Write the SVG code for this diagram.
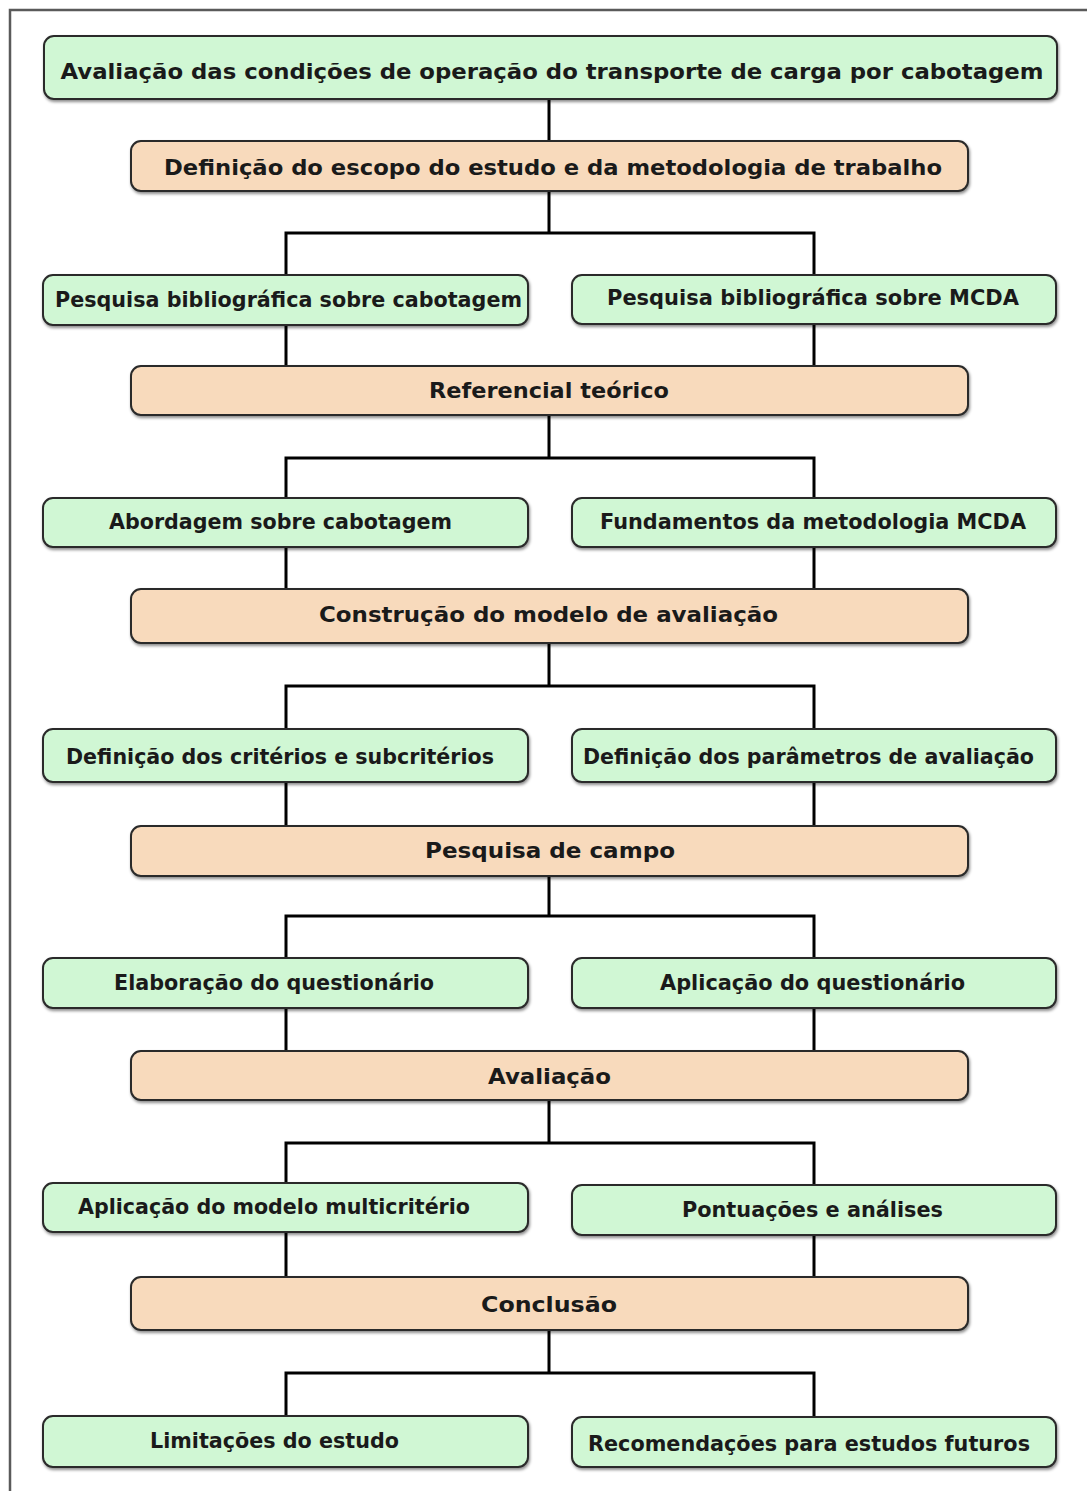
<svg xmlns="http://www.w3.org/2000/svg" width="1087" height="1491" viewBox="0 0 1087 1491">
<defs>
<filter id="sh" x="-5%" y="-20%" width="110%" height="150%">
<feDropShadow dx="1" dy="2" stdDeviation="1.5" flood-color="#000" flood-opacity="0.45"/>
</filter>
<style>
.g{fill:#d0f7d4;stroke:#2a2a2a;stroke-width:2;filter:url(#sh)}
.o{fill:#f8dabc;stroke:#2a2a2a;stroke-width:2;filter:url(#sh)}
.t{font-family:"DejaVu Sans","Liberation Sans",sans-serif;font-weight:bold;font-size:21px;fill:#1a1a1a}
.c{fill:none;stroke:#000;stroke-width:3}
</style>
</defs>
<rect width="1087" height="1491" fill="#fff"/>
<path d="M10,1491 V10 H1087" fill="none" stroke="#5a5a5a" stroke-width="2.5"/>
<g id="connectors">
<path class="c" d="M549,99 V141"/>
<path class="c" d="M549,191 V233 M286,233 H814 M286,231.5 V275 M814,231.5 V275 M286,325 V366 M814,324 V366"/>
<path class="c" d="M549,415 V458 M286,458 H814 M286,456.5 V498 M814,456.5 V498 M286,547 V589 M814,547 V589"/>
<path class="c" d="M549,643 V686 M286,686 H814 M286,684.5 V729 M814,684.5 V729 M286,782 V826 M814,782 V826"/>
<path class="c" d="M549,876 V916 M286,916 H814 M286,914.5 V958 M814,914.5 V958 M286,1008 V1051 M814,1008 V1051"/>
<path class="c" d="M549,1100 V1143 M286,1143 H814 M286,1141.5 V1183 M814,1141.5 V1185 M286,1232 V1277 M814,1235 V1277"/>
<path class="c" d="M549,1330 V1373 M286,1373 H814 M286,1371.5 V1416 M814,1371.5 V1417"/>
</g>
<g id="n1"><rect class="g" x="44" y="36" width="1013" height="63" rx="10"/><text class="t" x="552" y="79" text-anchor="middle" textLength="983" lengthAdjust="spacingAndGlyphs">Avaliação das condições de operação do transporte de carga por cabotagem</text></g>
<g id="n2"><rect class="o" x="131" y="141" width="837" height="50" rx="10"/><text class="t" x="553" y="175" text-anchor="middle" textLength="778" lengthAdjust="spacingAndGlyphs">Definição do escopo do estudo e da metodologia de trabalho</text></g>
<g id="n3"><rect class="g" x="43" y="275" width="485" height="50" rx="10"/><text class="t" x="288.5" y="307" text-anchor="middle" textLength="467" lengthAdjust="spacingAndGlyphs">Pesquisa bibliográfica sobre cabotagem</text></g>
<g id="n4"><rect class="g" x="572" y="275" width="484" height="49" rx="10"/><text class="t" x="813" y="305" text-anchor="middle" textLength="412" lengthAdjust="spacingAndGlyphs">Pesquisa bibliográfica sobre MCDA</text></g>
<g id="n5"><rect class="o" x="131" y="366" width="837" height="49" rx="10"/><text class="t" x="549" y="398" text-anchor="middle" textLength="240" lengthAdjust="spacingAndGlyphs">Referencial teórico</text></g>
<g id="n6"><rect class="g" x="43" y="498" width="485" height="49" rx="10"/><text class="t" x="280.5" y="529" text-anchor="middle" textLength="343" lengthAdjust="spacingAndGlyphs">Abordagem sobre cabotagem</text></g>
<g id="n7"><rect class="g" x="572" y="498" width="484" height="49" rx="10"/><text class="t" x="813" y="529" text-anchor="middle" textLength="426" lengthAdjust="spacingAndGlyphs">Fundamentos da metodologia MCDA</text></g>
<g id="n8"><rect class="o" x="131" y="589" width="837" height="54" rx="10"/><text class="t" x="548.5" y="622" text-anchor="middle" textLength="459" lengthAdjust="spacingAndGlyphs">Construção do modelo de avaliação</text></g>
<g id="n9"><rect class="g" x="43" y="729" width="485" height="53" rx="10"/><text class="t" x="280" y="764" text-anchor="middle" textLength="428" lengthAdjust="spacingAndGlyphs">Definição dos critérios e subcritérios</text></g>
<g id="n10"><rect class="g" x="572" y="729" width="484" height="53" rx="10"/><text class="t" x="808.5" y="764" text-anchor="middle" textLength="451" lengthAdjust="spacingAndGlyphs">Definição dos parâmetros de avaliação</text></g>
<g id="n11"><rect class="o" x="131" y="826" width="837" height="50" rx="10"/><text class="t" x="550" y="858" text-anchor="middle" textLength="250" lengthAdjust="spacingAndGlyphs">Pesquisa de campo</text></g>
<g id="n12"><rect class="g" x="43" y="958" width="485" height="50" rx="10"/><text class="t" x="274" y="990" text-anchor="middle" textLength="320" lengthAdjust="spacingAndGlyphs">Elaboração do questionário</text></g>
<g id="n13"><rect class="g" x="572" y="958" width="484" height="50" rx="10"/><text class="t" x="812.5" y="990" text-anchor="middle" textLength="305" lengthAdjust="spacingAndGlyphs">Aplicação do questionário</text></g>
<g id="n14"><rect class="o" x="131" y="1051" width="837" height="49" rx="10"/><text class="t" x="549.5" y="1084" text-anchor="middle" textLength="123" lengthAdjust="spacingAndGlyphs">Avaliação</text></g>
<g id="n15"><rect class="g" x="43" y="1183" width="485" height="49" rx="10"/><text class="t" x="274" y="1214" text-anchor="middle" textLength="392" lengthAdjust="spacingAndGlyphs">Aplicação do modelo multicritério</text></g>
<g id="n16"><rect class="g" x="572" y="1185" width="484" height="50" rx="10"/><text class="t" x="812.5" y="1217" text-anchor="middle" textLength="261" lengthAdjust="spacingAndGlyphs">Pontuações e análises</text></g>
<g id="n17"><rect class="o" x="131" y="1277" width="837" height="53" rx="10"/><text class="t" x="549" y="1312" text-anchor="middle" textLength="136" lengthAdjust="spacingAndGlyphs">Conclusão</text></g>
<g id="n18"><rect class="g" x="43" y="1416" width="485" height="51" rx="10"/><text class="t" x="274.5" y="1448" text-anchor="middle" textLength="249" lengthAdjust="spacingAndGlyphs">Limitações do estudo</text></g>
<g id="n19"><rect class="g" x="572" y="1417" width="484" height="50" rx="10"/><text class="t" x="809" y="1451" text-anchor="middle" textLength="442" lengthAdjust="spacingAndGlyphs">Recomendações para estudos futuros</text></g>
</svg>
